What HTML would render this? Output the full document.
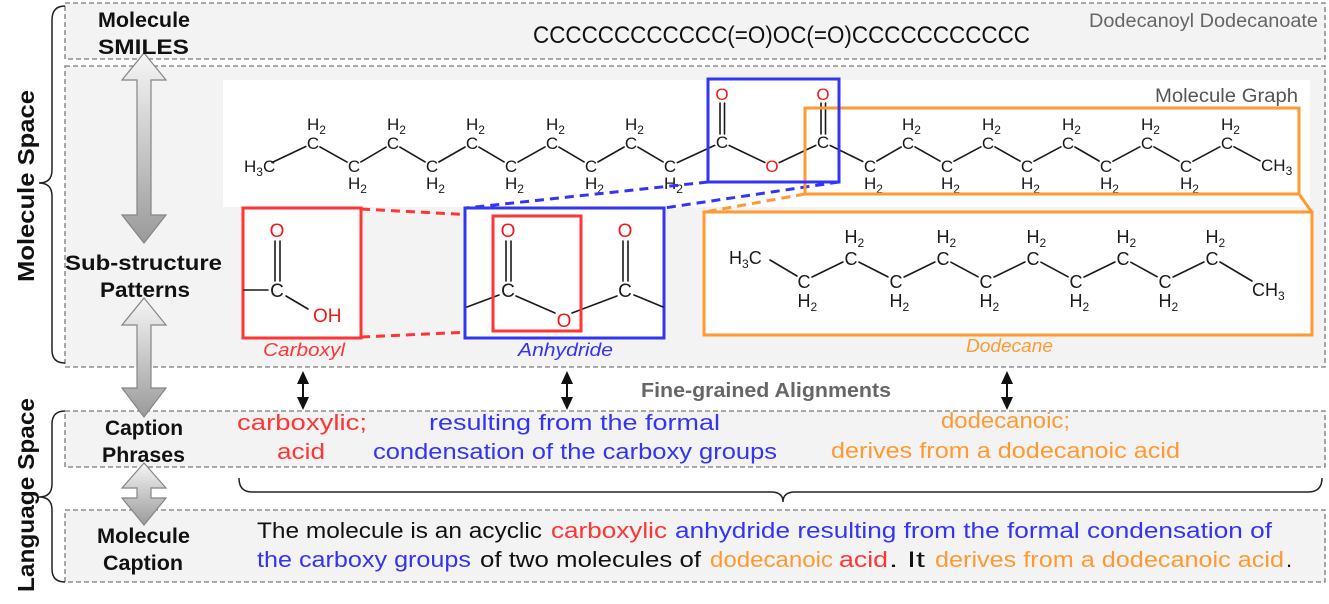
<!DOCTYPE html>
<html><head><meta charset="utf-8">
<style>
html,body{margin:0;padding:0;background:#fff;}
svg{display:block}
text{font-family:"Liberation Sans","DejaVu Sans",Arial,sans-serif;}
.lb{font-weight:bold;font-size:21px;fill:#111}
.rot{font-weight:bold;font-size:23px;fill:#111}
.at{font-size:17px;fill:#1a1a1a}
.at2{font-size:18px;fill:#1a1a1a}
.at3{font-size:19px;fill:#1a1a1a}
.ox{fill:#f01818}
.sb{font-size:12px}
.cp{font-size:22px}
.bond{stroke:#1a1a1a;stroke-width:1.6;fill:none;stroke-linecap:round}
.box{fill:#f3f3f3;stroke:#7a7a7a;stroke-width:1.3;stroke-dasharray:5 3}
</style></head><body>
<svg width="1329" height="604" viewBox="0 0 1329 604" xmlns="http://www.w3.org/2000/svg">
<defs>
<linearGradient id="g" x1="0" y1="0" x2="0" y2="1">
<stop offset="0" stop-color="#f6f6f6"/><stop offset="1" stop-color="#9a9a9a"/>
</linearGradient>
</defs>
<rect width="1329" height="604" fill="#fff"/>

<!-- dashed section boxes -->
<rect class="box" x="65" y="3" width="1260" height="56"/>
<rect class="box" x="65" y="66" width="1260" height="301"/>
<rect class="box" x="65" y="411" width="1260" height="56"/>
<rect class="box" x="65" y="510" width="1260" height="72"/>

<!-- braces -->
<path d="M65,6 Q52,6 52,20 L52,170 Q52,183 39,183 Q52,183 52,196 L52,350 Q52,363 65,363" fill="none" stroke="#222" stroke-width="1.5"/>
<path d="M65,411 Q52,411 52,424 L52,484 Q52,497 39,497 Q52,497 52,510 L52,569 Q52,582 65,582" fill="none" stroke="#222" stroke-width="1.5"/>
<path d="M239,478 Q239,492 252,492 L771,492 Q783,492 783,502 Q783,492 795,492 L1308,492 Q1322,492 1322,478" fill="none" stroke="#222" stroke-width="1.5"/>

<!-- rotated labels -->
<text class="rot" transform="translate(34,282) rotate(-90)" x="0" y="0" textLength="192" lengthAdjust="spacingAndGlyphs">Molecule Space</text>
<text class="rot" transform="translate(34,592) rotate(-90)" x="0" y="0" textLength="194" lengthAdjust="spacingAndGlyphs">Language Space</text>

<!-- block double arrows -->
<path d="M144,53 L166,80 L151,80 L151,215 L166,215 L144,243 L122,215 L137,215 L137,80 L122,80 Z" fill="url(#g)" stroke="#858585" stroke-width="1.2"/>
<path d="M144,298 L166,325 L151,325 L151,388 L166,388 L144,417 L122,388 L137,388 L137,325 L122,325 Z" fill="url(#g)" stroke="#858585" stroke-width="1.2"/>
<path d="M144,463 L166,488 L151,488 L151,498 L166,498 L144,525 L122,498 L137,498 L137,488 L122,488 Z" fill="url(#g)" stroke="#858585" stroke-width="1.2"/>

<!-- left labels -->
<text class="lb" x="98" y="27" textLength="92" lengthAdjust="spacingAndGlyphs">Molecule</text>
<text class="lb" x="98" y="54" textLength="91" lengthAdjust="spacingAndGlyphs">SMILES</text>
<text class="lb" x="65" y="270" textLength="157" lengthAdjust="spacingAndGlyphs">Sub-structure</text>
<text class="lb" x="100" y="297" textLength="90" lengthAdjust="spacingAndGlyphs">Patterns</text>
<text class="lb" x="105" y="435" textLength="78" lengthAdjust="spacingAndGlyphs">Caption</text>
<text class="lb" x="102" y="462" textLength="83" lengthAdjust="spacingAndGlyphs">Phrases</text>
<text class="lb" x="97" y="543" textLength="93" lengthAdjust="spacingAndGlyphs">Molecule</text>
<text class="lb" x="103" y="570" textLength="80" lengthAdjust="spacingAndGlyphs">Caption</text>

<!-- SMILES row -->
<text x="533" y="43" font-size="24" fill="#111" textLength="497" lengthAdjust="spacingAndGlyphs">CCCCCCCCCCCC(=O)OC(=O)CCCCCCCCCCC</text>
<text x="1089" y="27" font-size="19" fill="#666" textLength="229" lengthAdjust="spacingAndGlyphs">Dodecanoyl Dodecanoate</text>

<!-- molecule graph panel -->
<rect x="223" y="80" width="1087" height="127" fill="#fff"/>
<text x="1155" y="102" font-size="19" fill="#555" textLength="143" lengthAdjust="spacingAndGlyphs">Molecule Graph</text>

<!-- left chain bonds -->
<g class="bond">
<line x1="272" y1="162.5" x2="305.8" y2="146.5"/>
<line x1="320" y1="146.9" x2="347" y2="162.1"/>
<line x1="360.9" y1="161.9" x2="386.1" y2="147.1"/>
<line x1="399.9" y1="147.1" x2="425.1" y2="161.9"/>
<line x1="438.9" y1="162" x2="465.1" y2="147"/>
<line x1="478.9" y1="147.1" x2="504.1" y2="161.9"/>
<line x1="518" y1="162.1" x2="545" y2="146.9"/>
<line x1="558.9" y1="147.1" x2="584.1" y2="161.9"/>
<line x1="597.9" y1="162" x2="624.1" y2="147"/>
<line x1="637.9" y1="147.1" x2="663.1" y2="161.9"/>
<line x1="677.3" y1="162.6" x2="714.7" y2="145.4"/>
<line x1="720" y1="103" x2="720" y2="134"/>
<line x1="724.5" y1="103" x2="724.5" y2="134"/>
<line x1="729.2" y1="145.5" x2="764.8" y2="162.5"/>
<line x1="779.2" y1="162.6" x2="815.8" y2="145.4"/>
<line x1="821" y1="103" x2="821" y2="134"/>
<line x1="825.5" y1="103" x2="825.5" y2="134"/>
<line x1="830.2" y1="145.5" x2="862.8" y2="161.5"/>
<line x1="876.9" y1="161" x2="901.1" y2="147"/>
<line x1="915" y1="146.9" x2="940" y2="161.1"/>
<line x1="954" y1="161.2" x2="980.9" y2="146.8"/>
<line x1="995" y1="146.9" x2="1020" y2="161.1"/>
<line x1="1034" y1="161.2" x2="1060.9" y2="146.8"/>
<line x1="1074.9" y1="147" x2="1099.1" y2="161"/>
<line x1="1113" y1="161.2" x2="1139.9" y2="146.8"/>
<line x1="1154" y1="146.9" x2="1179" y2="161.1"/>
<line x1="1193" y1="161.2" x2="1219.9" y2="146.8"/>
<line x1="1234" y1="146.8" x2="1260" y2="160.8"/>
</g>

<!-- graph atom labels -->
<g class="at">
<text x="244" y="172">H<tspan class="sb" dy="4">3</tspan><tspan dy="-4">C</tspan></text>
<!-- up carbons -->
<text x="313" y="149" text-anchor="middle">C</text><text x="307" y="130">H<tspan class="sb" dy="4">2</tspan></text>
<text x="393" y="149" text-anchor="middle">C</text><text x="387" y="130">H<tspan class="sb" dy="4">2</tspan></text>
<text x="472" y="149" text-anchor="middle">C</text><text x="466" y="130">H<tspan class="sb" dy="4">2</tspan></text>
<text x="552" y="149" text-anchor="middle">C</text><text x="546" y="130">H<tspan class="sb" dy="4">2</tspan></text>
<text x="631" y="149" text-anchor="middle">C</text><text x="625" y="130">H<tspan class="sb" dy="4">2</tspan></text>
<!-- down carbons -->
<text x="354" y="172" text-anchor="middle">C</text><text x="348" y="189">H<tspan class="sb" dy="4">2</tspan></text>
<text x="432" y="172" text-anchor="middle">C</text><text x="426" y="189">H<tspan class="sb" dy="4">2</tspan></text>
<text x="511" y="172" text-anchor="middle">C</text><text x="505" y="189">H<tspan class="sb" dy="4">2</tspan></text>
<text x="591" y="172" text-anchor="middle">C</text><text x="585" y="189">H<tspan class="sb" dy="4">2</tspan></text>
<text x="670" y="172" text-anchor="middle">C</text><text x="664" y="189">H<tspan class="sb" dy="4">2</tspan></text>
<!-- carbonyls / ester -->
<text x="722" y="148" text-anchor="middle">C</text>
<text class="ox" x="722" y="100" text-anchor="middle">O</text>
<text class="ox" x="772" y="172" text-anchor="middle">O</text>
<text x="823" y="148" text-anchor="middle">C</text>
<text class="ox" x="823" y="100" text-anchor="middle">O</text>
<!-- right chain -->
<text x="870" y="172" text-anchor="middle">C</text><text x="864" y="189">H<tspan class="sb" dy="4">2</tspan></text>
<text x="947" y="172" text-anchor="middle">C</text><text x="941" y="189">H<tspan class="sb" dy="4">2</tspan></text>
<text x="1027" y="172" text-anchor="middle">C</text><text x="1021" y="189">H<tspan class="sb" dy="4">2</tspan></text>
<text x="1106" y="172" text-anchor="middle">C</text><text x="1100" y="189">H<tspan class="sb" dy="4">2</tspan></text>
<text x="1186" y="172" text-anchor="middle">C</text><text x="1180" y="189">H<tspan class="sb" dy="4">2</tspan></text>
<text x="908" y="149" text-anchor="middle">C</text><text x="902" y="130">H<tspan class="sb" dy="4">2</tspan></text>
<text x="988" y="149" text-anchor="middle">C</text><text x="982" y="130">H<tspan class="sb" dy="4">2</tspan></text>
<text x="1068" y="149" text-anchor="middle">C</text><text x="1062" y="130">H<tspan class="sb" dy="4">2</tspan></text>
<text x="1147" y="149" text-anchor="middle">C</text><text x="1141" y="130">H<tspan class="sb" dy="4">2</tspan></text>
<text x="1227" y="149" text-anchor="middle">C</text><text x="1221" y="130">H<tspan class="sb" dy="4">2</tspan></text>
<text x="1261" y="171">CH<tspan class="sb" dy="4">3</tspan></text>
</g>

<!-- dashed connectors -->
<g fill="none" stroke-width="3" stroke-dasharray="9 6">
<line x1="708" y1="182" x2="466" y2="208" stroke="#3434f5"/>
<line x1="839" y1="182" x2="664" y2="208" stroke="#3434f5"/>
<line x1="805" y1="194" x2="705" y2="212" stroke="#ff9a33"/>
<line x1="361" y1="209" x2="493" y2="216" stroke="#ff3535"/>
<line x1="361" y1="337" x2="493" y2="331" stroke="#ff3535"/>
</g>
<line x1="1299" y1="194" x2="1311" y2="211" stroke="#ff9a33" stroke-width="3"/>

<!-- graph highlight boxes -->
<rect x="805" y="108" width="494" height="86" fill="none" stroke="#ff9a33" stroke-width="3"/>
<rect x="708" y="79" width="131" height="103" fill="none" stroke="#3434f5" stroke-width="3"/>

<!-- substructure boxes -->
<rect x="243" y="208" width="118" height="130" fill="#fff" stroke="#ff3535" stroke-width="3"/>
<rect x="465" y="208" width="199" height="130" fill="#fff" stroke="#3434f5" stroke-width="3"/>
<rect x="704" y="212" width="608" height="123" fill="#fff" stroke="#ff9a33" stroke-width="3"/>

<!-- carboxyl -->
<g class="bond">
<line x1="244" y1="290" x2="268" y2="290"/>
<line x1="275" y1="241" x2="275" y2="281"/>
<line x1="280" y1="241" x2="280" y2="281"/>
<line x1="286" y1="296" x2="308" y2="309"/>
</g>
<g class="at3">
<text x="277" y="297" text-anchor="middle">C</text>
<text class="ox" x="277" y="237" text-anchor="middle">O</text>
<text class="ox" x="313" y="322">OH</text>
</g>

<!-- anhydride -->
<g class="bond">
<line x1="467" y1="307" x2="499" y2="295"/>
<line x1="506" y1="241" x2="506" y2="281"/>
<line x1="511" y1="241" x2="511" y2="281"/>
<line x1="516" y1="296" x2="555" y2="313"/>
<line x1="572" y1="313" x2="617" y2="296"/>
<line x1="623" y1="241" x2="623" y2="281"/>
<line x1="628" y1="241" x2="628" y2="281"/>
<line x1="634" y1="295" x2="663" y2="307"/>
</g>
<g class="at3">
<text x="508" y="297" text-anchor="middle">C</text>
<text class="ox" x="508" y="237" text-anchor="middle">O</text>
<text class="ox" x="564" y="327" text-anchor="middle">O</text>
<text x="625" y="297" text-anchor="middle">C</text>
<text class="ox" x="625" y="237" text-anchor="middle">O</text>
</g>
<rect x="493" y="216" width="88" height="115" fill="none" stroke="#ff3535" stroke-width="3"/>

<!-- dodecane -->
<g class="bond">
<line x1="770" y1="260" x2="797" y2="276"/>
<line x1="812.1" y1="277" x2="842.9" y2="262"/>
<line x1="859" y1="262.1" x2="888" y2="276.9"/>
<line x1="904.1" y1="277" x2="934.9" y2="262"/>
<line x1="950.9" y1="262.2" x2="978.1" y2="276.8"/>
<line x1="994.1" y1="277" x2="1024.9" y2="262"/>
<line x1="1040.9" y1="262.2" x2="1068.1" y2="276.8"/>
<line x1="1084.1" y1="277" x2="1114.9" y2="262"/>
<line x1="1130.9" y1="262.3" x2="1157.1" y2="276.7"/>
<line x1="1173.1" y1="277" x2="1203.9" y2="262"/>
<line x1="1220" y1="262" x2="1252" y2="281"/>
</g>
<g class="at2">
<text x="729" y="264">H<tspan class="sb" dy="4">3</tspan><tspan dy="-4">C</tspan></text>
<text x="804" y="288" text-anchor="middle">C</text><text x="797.5" y="307">H<tspan class="sb" dy="4">2</tspan></text>
<text x="896" y="288" text-anchor="middle">C</text><text x="889.5" y="307">H<tspan class="sb" dy="4">2</tspan></text>
<text x="986" y="288" text-anchor="middle">C</text><text x="979.5" y="307">H<tspan class="sb" dy="4">2</tspan></text>
<text x="1076" y="288" text-anchor="middle">C</text><text x="1069.5" y="307">H<tspan class="sb" dy="4">2</tspan></text>
<text x="1165" y="288" text-anchor="middle">C</text><text x="1158.5" y="307">H<tspan class="sb" dy="4">2</tspan></text>
<text x="851" y="265" text-anchor="middle">C</text><text x="844.5" y="243">H<tspan class="sb" dy="4">2</tspan></text>
<text x="943" y="265" text-anchor="middle">C</text><text x="936.5" y="243">H<tspan class="sb" dy="4">2</tspan></text>
<text x="1033" y="265" text-anchor="middle">C</text><text x="1026.5" y="243">H<tspan class="sb" dy="4">2</tspan></text>
<text x="1123" y="265" text-anchor="middle">C</text><text x="1116.5" y="243">H<tspan class="sb" dy="4">2</tspan></text>
<text x="1212" y="265" text-anchor="middle">C</text><text x="1205.5" y="243">H<tspan class="sb" dy="4">2</tspan></text>
<text x="1252" y="296">CH<tspan class="sb" dy="4">3</tspan></text>
</g>

<!-- substructure names -->
<text x="263" y="356" font-size="18" font-style="italic" fill="#ff3535" textLength="82" lengthAdjust="spacingAndGlyphs">Carboxyl</text>
<text x="518" y="356" font-size="18" font-style="italic" fill="#3434f5" textLength="95" lengthAdjust="spacingAndGlyphs">Anhydride</text>
<text x="966" y="352" font-size="18" font-style="italic" fill="#ff9a33" textLength="87" lengthAdjust="spacingAndGlyphs">Dodecane</text>

<!-- fine-grained alignment arrows -->
<g stroke="#111" stroke-width="2" fill="#111">
<line x1="303" y1="380" x2="303" y2="401"/>
<polygon points="303,371 297,384 309,384" stroke="none"/>
<polygon points="303,410 297,397 309,397" stroke="none"/>
<line x1="567" y1="380" x2="567" y2="401"/>
<polygon points="567,371 561,384 573,384" stroke="none"/>
<polygon points="567,410 561,397 573,397" stroke="none"/>
<line x1="1007" y1="380" x2="1007" y2="401"/>
<polygon points="1007,371 1001,384 1013,384" stroke="none"/>
<polygon points="1007,410 1001,397 1013,397" stroke="none"/>
</g>
<text x="641" y="397" font-size="20" font-weight="bold" fill="#666" textLength="250" lengthAdjust="spacingAndGlyphs">Fine-grained Alignments</text>

<!-- caption phrases -->
<g class="cp">
<text x="237" y="430" fill="#ff3535" textLength="130" lengthAdjust="spacingAndGlyphs">carboxylic;</text>
<text x="277" y="459" fill="#ff3535" textLength="48" lengthAdjust="spacingAndGlyphs">acid</text>
<text x="429" y="430" fill="#3434f5" textLength="291" lengthAdjust="spacingAndGlyphs">resulting from the formal</text>
<text x="373" y="459" fill="#3434f5" textLength="404" lengthAdjust="spacingAndGlyphs">condensation of the carboxy groups</text>
<text x="941" y="428" fill="#ff9a33" textLength="129" lengthAdjust="spacingAndGlyphs">dodecanoic;</text>
<text x="831" y="458" fill="#ff9a33" textLength="349" lengthAdjust="spacingAndGlyphs">derives from a dodecanoic acid</text>
</g>

<!-- molecule caption -->
<g class="cp">
<text x="257" y="538" fill="#111" textLength="285" lengthAdjust="spacingAndGlyphs">The molecule is an acyclic</text>
<text x="551" y="538" fill="#ff3535" textLength="116" lengthAdjust="spacingAndGlyphs">carboxylic</text>
<text x="675" y="538" fill="#3434f5" textLength="597" lengthAdjust="spacingAndGlyphs">anhydride resulting from the formal condensation of</text>
<text x="257" y="567" fill="#3434f5" textLength="214" lengthAdjust="spacingAndGlyphs">the carboxy groups</text>
<text x="480" y="567" fill="#111" textLength="221" lengthAdjust="spacingAndGlyphs">of two molecules of</text>
<text x="710" y="567" fill="#ff9a33" textLength="123" lengthAdjust="spacingAndGlyphs">dodecanoic</text>
<text x="839" y="567" fill="#ff3535" textLength="49" lengthAdjust="spacingAndGlyphs">acid</text>
<text x="889" y="567" fill="#111" textLength="36" lengthAdjust="spacingAndGlyphs">. It</text>
<text x="935" y="567" fill="#ff9a33" textLength="349" lengthAdjust="spacingAndGlyphs">derives from a dodecanoic acid</text>
<text x="1286" y="567" fill="#111">.</text>
</g>
</svg>
</body></html>
